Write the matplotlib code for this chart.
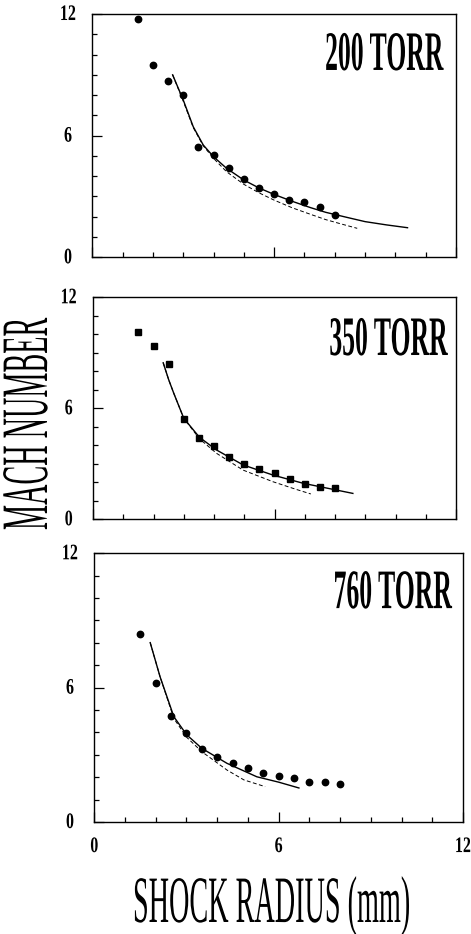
import matplotlib
matplotlib.use("Agg")
import matplotlib.pyplot as plt
from matplotlib.patheffects import AbstractPathEffect
from matplotlib.transforms import Affine2D
from matplotlib.ticker import MultipleLocator

# measured points (shock radius in mm, Mach number)
radius = [1.5, 2.0, 2.5, 3.0, 3.5, 4.0, 4.5, 5.0, 5.5, 6.0, 6.5, 7.0, 7.5, 8.0]
mach_200 = [11.74, 9.47, 8.68, 7.99, 5.44, 5.03, 4.40, 3.84, 3.40, 3.13, 2.83, 2.72, 2.50, 2.11]
mach_350 = [10.11, 9.37, 8.37, 5.43, 4.39, 3.97, 3.35, 2.99, 2.70, 2.49, 2.17, 1.90, 1.76, 1.70]
mach_760 = [8.39, 6.23, 4.74, 3.96, 3.28, 2.91, 2.65, 2.43, 2.20, 2.06, 1.96, 1.79, 1.77, 1.68]

# model curves
solid_200_x = [2.65, 3.0, 3.33, 3.66, 4.0, 4.43, 5.0, 5.5, 6.0, 6.6, 7.2, 7.7, 8.4, 9.0, 9.7, 10.4]
solid_200_y = [9.0, 7.76, 6.44, 5.54, 4.96, 4.39, 3.81, 3.42, 3.10, 2.76, 2.45, 2.22, 1.97, 1.76, 1.60, 1.46]
dash_200_x = [2.65, 3.0, 3.33, 3.66, 4.0, 4.43, 5.0, 5.5, 6.0, 6.6, 7.2, 7.7, 8.2, 8.74]
dash_200_y = [9.0, 7.7, 6.4, 5.5, 4.88, 4.22, 3.6, 3.18, 2.82, 2.44, 2.12, 1.86, 1.65, 1.43]

solid_350_x = [2.32, 2.5, 2.67, 3.0, 3.52, 4.08, 4.96, 5.95, 6.94, 7.93, 8.59]
solid_350_y = [8.46, 7.55, 6.81, 5.46, 4.43, 3.75, 2.94, 2.39, 1.95, 1.62, 1.40]
dash_350_x = [2.32, 2.5, 2.67, 3.0, 3.52, 4.08, 4.96, 5.95, 6.71, 7.2]
dash_350_y = [8.46, 7.55, 6.81, 5.46, 4.35, 3.57, 2.66, 2.03, 1.62, 1.37]

solid_760_x = [1.82, 2.14, 2.59, 3.01, 3.5, 4.32, 5.29, 6.0, 6.66]
solid_760_y = [8.01, 6.49, 4.70, 3.89, 3.29, 2.62, 2.02, 1.78, 1.52]
dash_760_x = [1.82, 2.14, 2.59, 3.01, 3.5, 4.32, 4.87, 5.56]
dash_760_y = [8.01, 6.49, 4.62, 3.78, 3.14, 2.32, 1.88, 1.58]

labels = ["200 TORR", "350 TORR", "760 TORR"]
ticks = [0, 6, 12]


class Tall(AbstractPathEffect):
    # stretch glyphs up from the baseline -> tall condensed type like the original
    def __init__(self, sy):
        super().__init__()
        self.sy = sy

    def draw_path(self, renderer, gc, tpath, affine, rgbFace=None):
        renderer.draw_path(gc, tpath, Affine2D().scale(1.0, self.sy) + affine, rgbFace)


serif = ["Liberation Serif", "DejaVu Serif"]

fig = plt.figure(figsize=(4.71, 9.34), dpi=100)

rects = [[0.196, 0.7245, 0.7722, 0.2605],
         [0.1975, 0.444, 0.7707, 0.2377],
         [0.2002, 0.1199, 0.7828, 0.2877]]
label_pos = [(0.640, 0.770), (0.651, 0.740), (0.649, 0.796)]
data = [
    (mach_200, 'o', solid_200_x, solid_200_y, dash_200_x, dash_200_y),
    (mach_350, 's', solid_350_x, solid_350_y, dash_350_x, dash_350_y),
    (mach_760, 'o', solid_760_x, solid_760_y, dash_760_x, dash_760_y),
]

for i in range(3):
    ax = fig.add_axes(rects[i])
    pts, mk, sx_, sy_, dx_, dy_ = data[i]
    ax.plot(sx_, sy_, color='black', lw=1.0)
    ax.plot(dx_, dy_, color='black', lw=0.7, linestyle=(0, (4, 2.5)))
    ax.plot(radius, pts, linestyle='none', marker=mk, color='black',
            markersize=4.6 if mk == 'o' else 4.3)
    ax.set_xlim(0, 12)
    ax.set_ylim(0, 12)
    ax.set_xticks(ticks)
    ax.set_yticks(ticks)
    ax.xaxis.set_minor_locator(MultipleLocator(1))
    ax.yaxis.set_minor_locator(MultipleLocator(1))
    ax.tick_params(which='both', direction='in', width=0.9, color='black')
    ax.tick_params(which='major', length=7.5)
    ax.tick_params(which='minor', length=3.5)
    ax.tick_params(axis='y', pad=17.5)
    ax.tick_params(axis='x', pad=13.0)
    for sp in ax.spines.values():
        sp.set_linewidth(1.0)
    for t in ax.get_yticklabels():
        t.set_fontfamily(serif)
        t.set_fontweight('bold')
        t.set_fontsize(11.5)
        t.set_horizontalalignment('center')
        t.set_path_effects([Tall(1.39)])
    if i < 2:
        ax.set_xticklabels([])
    else:
        for t in ax.get_xticklabels():
            t.set_fontfamily(serif)
            t.set_fontweight('bold')
            t.set_fontsize(11.5)
            t.set_path_effects([Tall(1.39)])
    ax.text(label_pos[i][0], label_pos[i][1], labels[i], transform=ax.transAxes,
            ha='left', va='baseline', fontsize=18.5, fontweight='bold', family=serif,
            path_effects=[Tall(2.17)])

fig.text(133 / 471, 1 - 922 / 934, "SHOCK RADIUS (mm)", ha='left', va='baseline',
         fontsize=20.3, family=serif, path_effects=[Tall(2.35)])
fig.text(47 / 471, 1 - 530 / 934, "MACH NUMBER", rotation=90, rotation_mode='anchor',
         ha='left', va='baseline', fontsize=20.3, family=serif,
         path_effects=[Tall(2.35)])

fig.savefig("out.png", dpi=100)
